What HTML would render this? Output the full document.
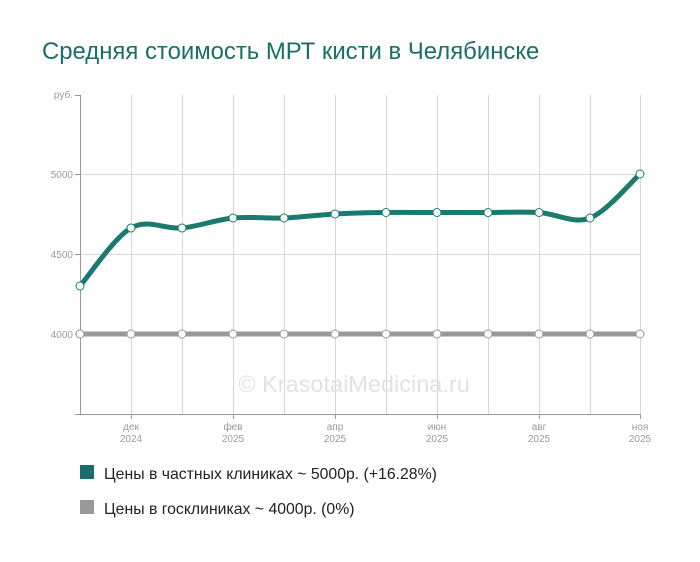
<!DOCTYPE html>
<html><head><meta charset="utf-8"><style>
body{margin:0;background:#fff;width:700px;height:557px;overflow:hidden;font-family:"Liberation Sans",sans-serif;}
</style></head><body>
<svg id="s" width="700" height="557" xmlns="http://www.w3.org/2000/svg" font-family="Liberation Sans, sans-serif">
<text x="42" y="59" font-size="23.9" fill="#1b6f68">Средняя стоимость МРТ кисти в Челябинске</text>
<g stroke="#d6d6d6" stroke-width="1">
<line x1="80" y1="174.5" x2="640" y2="174.5"/>
<line x1="80" y1="254.5" x2="640" y2="254.5"/>
<line x1="80" y1="334.5" x2="640" y2="334.5"/>
<line x1="131.5" y1="95" x2="131.5" y2="414"/><line x1="182.5" y1="95" x2="182.5" y2="414"/>
<line x1="233.5" y1="95" x2="233.5" y2="414"/><line x1="284.5" y1="95" x2="284.5" y2="414"/>
<line x1="335.5" y1="95" x2="335.5" y2="414"/><line x1="386.5" y1="95" x2="386.5" y2="414"/>
<line x1="437.5" y1="95" x2="437.5" y2="414"/><line x1="488.5" y1="95" x2="488.5" y2="414"/>
<line x1="539.5" y1="95" x2="539.5" y2="414"/><line x1="590.5" y1="95" x2="590.5" y2="414"/>
<line x1="640.5" y1="95" x2="640.5" y2="414"/>
</g>
<g stroke="#999" stroke-width="1">
<line x1="80.5" y1="95" x2="80.5" y2="414"/><line x1="80" y1="414.5" x2="641" y2="414.5"/>
<line x1="75" y1="95.5" x2="80" y2="95.5"/><line x1="75" y1="174.5" x2="80" y2="174.5"/><line x1="75" y1="254.5" x2="80" y2="254.5"/><line x1="75" y1="334.5" x2="80" y2="334.5"/><line x1="75" y1="414.5" x2="80" y2="414.5"/>
<line x1="131.5" y1="414" x2="131.5" y2="419"/><line x1="233.5" y1="414" x2="233.5" y2="419"/><line x1="335.5" y1="414" x2="335.5" y2="419"/><line x1="437.5" y1="414" x2="437.5" y2="419"/><line x1="539.5" y1="414" x2="539.5" y2="419"/><line x1="640.5" y1="414" x2="640.5" y2="419"/>
</g>
<g font-size="10" fill="#999" text-anchor="end">
<text x="73" y="98">руб.</text><text x="73" y="178">5000</text><text x="73" y="258">4500</text><text x="73" y="338">4000</text>
</g>
<g font-size="10" fill="#999" text-anchor="middle">
<text x="131" y="430">дек</text><text x="131" y="442">2024</text>
<text x="233" y="430">фев</text><text x="233" y="442">2025</text>
<text x="335" y="430">апр</text><text x="335" y="442">2025</text>
<text x="437" y="430">июн</text><text x="437" y="442">2025</text>
<text x="539" y="430">авг</text><text x="539" y="442">2025</text>
<text x="640" y="430">ноя</text><text x="640" y="442">2025</text>
</g>
<text x="354" y="392" font-size="23.5" fill="#e2e2e2" text-anchor="middle">© KrasotaiMedicina.ru</text>
<line x1="80" y1="334" x2="640" y2="334" stroke="#999" stroke-width="5"/>
<path id="tp" fill="none" stroke="#1b7a70" stroke-width="5" stroke-linecap="round"/>
<g id="pts"></g>
<rect x="80" y="465" width="14" height="14" fill="#1b6f68"/>
<text x="104" y="479" font-size="15.8" fill="#222">Цены в частных клиниках ~ 5000р. (+16.28%)</text>
<rect x="80" y="500" width="14" height="14" fill="#999"/>
<text x="104" y="514" font-size="15.8" fill="#222">Цены в госклиниках ~ 4000р. (0%)</text>
</svg>
<script>
var xs=[80,131,182,233,284,335,386,437,488,539,590,640];
var ys=[286,228,228,218,218,214,212.5,212.5,212.5,212.5,218,174];
var d="M"+xs[0]+","+ys[0];
for(var i=0;i<xs.length-1;i++){
var p0=i>0?i-1:i,p3=i+2<xs.length?i+2:i+1;
var c1x=xs[i]+(xs[i+1]-xs[p0])/6,c1y=ys[i]+(ys[i+1]-ys[p0])/6;
var c2x=xs[i+1]-(xs[p3]-xs[i])/6,c2y=ys[i+1]-(ys[p3]-ys[i])/6;
d+=" C"+c1x+","+c1y+" "+c2x+","+c2y+" "+xs[i+1]+","+ys[i+1];}
document.getElementById("tp").setAttribute("d",d);
var g="";
for(var i=0;i<xs.length;i++){
g+='<circle cx="'+xs[i]+'" cy="'+ys[i]+'" r="4" fill="#fff" stroke="#1b7a70" stroke-width="1"/>';
g+='<circle cx="'+xs[i]+'" cy="334" r="4" fill="#fff" stroke="#999" stroke-width="1"/>';}
document.getElementById("pts").innerHTML=g;
</script>
</body></html>
